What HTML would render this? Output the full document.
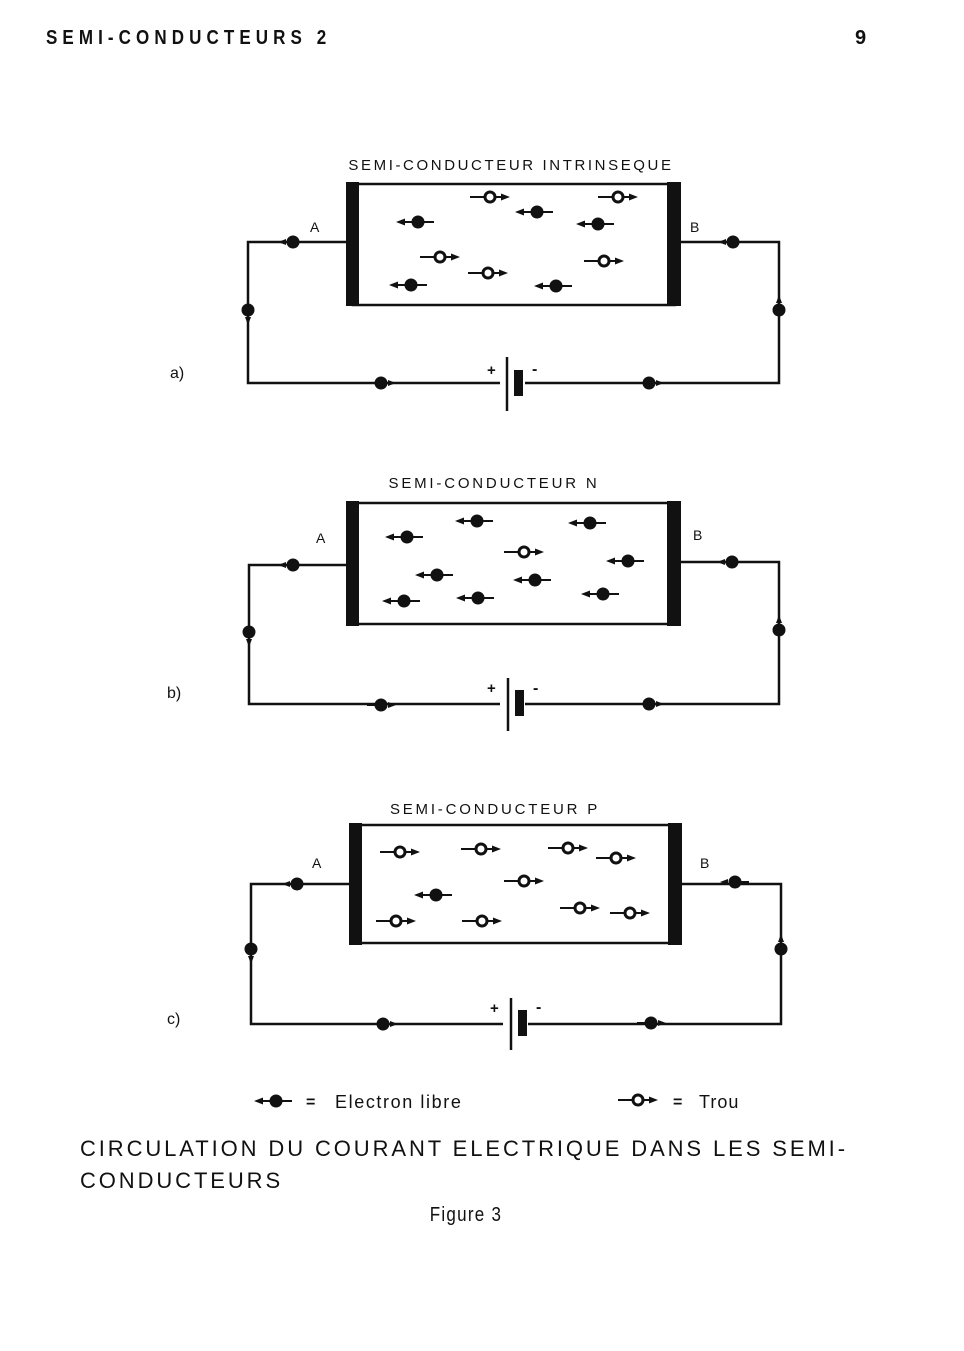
<!DOCTYPE html>
<html><head><meta charset="utf-8"><style>
html,body{margin:0;padding:0;background:#fff;}
svg{display:block;}
text{font-family:"Liberation Sans",sans-serif;fill:#111;}
</style></head><body>
<svg width="964" height="1351" viewBox="0 0 964 1351" xmlns="http://www.w3.org/2000/svg">
<defs>
<g id="e"><line x1="-14" y1="0" x2="16" y2="0" stroke="#111" stroke-width="2"/><circle r="6.5" fill="#111"/><path d="M-22,0 L-13,-3.5 L-13,3.5Z" fill="#111"/></g>
<g id="h"><line x1="-20" y1="0" x2="-4" y2="0" stroke="#111" stroke-width="2"/><circle r="5" fill="#fff" stroke="#111" stroke-width="3"/><line x1="5" y1="0" x2="12" y2="0" stroke="#111" stroke-width="2"/><path d="M20,0 L11,-3.5 L11,3.5Z" fill="#111"/></g>
<g id="we"><circle r="6.5" fill="#111"/><path d="M-15,0 L-7,-3 L-7,3Z" fill="#111"/><line x1="6" x2="14" stroke="#111" stroke-width="2"/></g>
</defs>

<text x="46" y="44" font-size="20" font-weight="bold" letter-spacing="6" transform="translate(46 0) scale(0.85 1) translate(-46 0)">SEMI-CONDUCTEURS 2</text>
<text x="855" y="44" font-size="20" font-weight="bold">9</text>

<!-- Diagram a -->
<text x="511" y="170" font-size="15" text-anchor="middle" letter-spacing="2.6">SEMI-CONDUCTEUR  INTRINSEQUE</text>
<g stroke="#111" fill="none" stroke-width="2.5">
<rect x="353" y="184" width="322" height="121"/>
<path d="M347,242 H248 V383 H500 M525,383 H779 V242 H681"/>
<line x1="507" y1="357" x2="507" y2="411"/>
</g>
<rect x="346" y="182" width="13" height="124" fill="#111"/>
<rect x="667" y="182" width="14" height="124" fill="#111"/>
<rect x="514" y="370" width="9" height="26" fill="#111"/>
<text x="487" y="375" font-size="15" font-weight="bold">+</text>
<text x="532" y="374" font-size="16" font-weight="bold">-</text>
<text x="310" y="232" font-size="14">A</text>
<text x="690" y="232" font-size="14">B</text>
<text x="170" y="378" font-size="16">a)</text>
<use href="#h" x="490" y="197"/><use href="#h" x="618" y="197"/><use href="#h" x="440" y="257"/><use href="#h" x="488" y="273"/><use href="#h" x="604" y="261"/>
<use href="#e" x="418" y="222"/><use href="#e" x="537" y="212"/><use href="#e" x="598" y="224"/><use href="#e" x="411" y="285"/><use href="#e" x="556" y="286"/>
<use href="#we" x="293" y="242"/><use href="#we" x="733" y="242"/>
<use href="#we" transform="translate(248 310) rotate(-90)"/><use href="#we" transform="translate(779 310) rotate(90)"/>
<use href="#we" transform="translate(381 383) rotate(180)"/><use href="#we" transform="translate(649 383) rotate(180)"/>

<!-- Diagram b -->
<text x="494" y="488" font-size="15" text-anchor="middle" letter-spacing="2.8">SEMI-CONDUCTEUR  N</text>
<g stroke="#111" fill="none" stroke-width="2.5">
<rect x="353" y="503" width="322" height="121"/>
<path d="M347,565 H249 V704 H500 M525,704 H779 V562 H681"/>
<line x1="508" y1="678" x2="508" y2="731"/>
</g>
<rect x="346" y="501" width="13" height="125" fill="#111"/>
<rect x="667" y="501" width="14" height="125" fill="#111"/>
<rect x="515" y="690" width="9" height="26" fill="#111"/>
<text x="487" y="693" font-size="15" font-weight="bold">+</text>
<text x="533" y="693" font-size="16" font-weight="bold">-</text>
<text x="316" y="543" font-size="14">A</text>
<text x="693" y="540" font-size="14">B</text>
<text x="167" y="698" font-size="16">b)</text>
<use href="#h" x="524" y="552"/>
<use href="#e" x="407" y="537"/><use href="#e" x="477" y="521"/><use href="#e" x="590" y="523"/><use href="#e" x="437" y="575"/><use href="#e" x="535" y="580"/><use href="#e" x="404" y="601"/><use href="#e" x="478" y="598"/><use href="#e" x="603" y="594"/><use href="#e" x="628" y="561"/>
<use href="#we" x="293" y="565"/><use href="#we" x="732" y="562"/>
<use href="#we" transform="translate(249 632) rotate(-90)"/><use href="#we" transform="translate(779 630) rotate(90)"/>
<use href="#we" transform="translate(381 705) rotate(180)"/><use href="#we" transform="translate(649 704) rotate(180)"/>

<!-- Diagram c -->
<text x="495" y="814" font-size="15" text-anchor="middle" letter-spacing="2.8">SEMI-CONDUCTEUR  P</text>
<g stroke="#111" fill="none" stroke-width="2.5">
<rect x="356" y="825" width="319" height="118"/>
<path d="M350,884 H251 V1024 H503 M528,1024 H781 V884 H681"/>
<line x1="511" y1="998" x2="511" y2="1050"/>
</g>
<rect x="349" y="823" width="13" height="122" fill="#111"/>
<rect x="668" y="823" width="14" height="122" fill="#111"/>
<rect x="518" y="1010" width="9" height="26" fill="#111"/>
<text x="490" y="1013" font-size="15" font-weight="bold">+</text>
<text x="536" y="1012" font-size="16" font-weight="bold">-</text>
<text x="312" y="868" font-size="14">A</text>
<text x="700" y="868" font-size="14">B</text>
<text x="167" y="1024" font-size="16">c)</text>
<use href="#h" x="400" y="852"/><use href="#h" x="481" y="849"/><use href="#h" x="568" y="848"/><use href="#h" x="616" y="858"/><use href="#h" x="524" y="881"/><use href="#h" x="396" y="921"/><use href="#h" x="482" y="921"/><use href="#h" x="580" y="908"/><use href="#h" x="630" y="913"/>
<use href="#e" x="436" y="895"/>
<use href="#we" x="297" y="884"/><use href="#we" x="735" y="882"/>
<use href="#we" transform="translate(251 949) rotate(-90)"/><use href="#we" transform="translate(781 949) rotate(90)"/>
<use href="#we" transform="translate(383 1024) rotate(180)"/><use href="#we" transform="translate(651 1023) rotate(180)"/>

<!-- Legend -->
<use href="#e" x="276" y="1101"/>
<text x="306" y="1107" font-size="16" font-weight="bold">=</text>
<text x="335" y="1108" font-size="18" letter-spacing="1.6">Electron libre</text>
<use href="#h" x="638" y="1100"/>
<text x="673" y="1107" font-size="16" font-weight="bold">=</text>
<text x="699" y="1108" font-size="18" letter-spacing="1">Trou</text>

<text x="80" y="1156" font-size="22" letter-spacing="2.9">CIRCULATION DU COURANT ELECTRIQUE DANS LES SEMI-</text>
<text x="80" y="1188" font-size="22" letter-spacing="2.9">CONDUCTEURS</text>
<text x="466" y="1221" font-size="20" text-anchor="middle" letter-spacing="1.5" transform="translate(466 0) scale(0.85 1) translate(-466 0)">Figure 3</text>
</svg>
</body></html>
